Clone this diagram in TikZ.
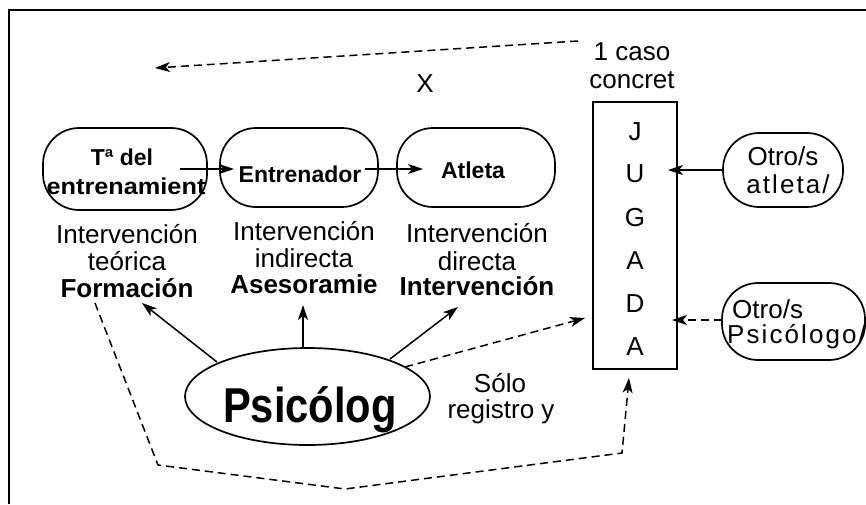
\documentclass[tikz,border=0pt]{standalone}
\usepackage{fontspec}
\usepackage{graphicx}
\setmainfont{Liberation Sans}
\usetikzlibrary{arrows.meta,shapes.geometric}
\newcommand\myfs[1]{\fontsize{#1}{#1}\selectfont}
\begin{document}
\begin{tikzpicture}[x=1pt,y=-1pt,
  txt/.style={inner sep=0pt,anchor=base,font=\myfs{26}},
  bltxt/.style={inner sep=0pt,anchor=base,font=\myfs{26}\bfseries},
  boxtxt/.style={inner sep=0pt,anchor=base,font=\myfs{23}\bfseries},
  rbox/.style={draw,line width=1.7pt,rounded corners=36pt,inner sep=0pt},
  conn/.style={line width=1.5pt,-{Stealth[length=15pt,width=10pt,inset=4pt]}},
  dconn/.style={conn,dash pattern=on 8pt off 5pt},
  spaced/.style={font=\myfs{26}\addfontfeatures{LetterSpace=8}}]
\useasboundingbox (0,0) rectangle (866,504);
% frame
\draw[line width=2.5pt] (9,504) -- (9,10) -- (866,10);
% shapes
\node[rbox, minimum width=164pt, minimum height=82pt] (ta) at (125,169) {};
\node[rbox, minimum width=158pt, minimum height=79pt] (en) at (299,167.5) {};
\node[rbox, minimum width=158pt, minimum height=79pt] (at) at (476,167.5) {};
\node[rbox, minimum width=120pt, minimum height=74pt] (oa) at (783,170) {};
\node[rbox, minimum width=143pt, minimum height=77pt] (op) at (793.5,321.5) {};
\node[draw, line width=1.8pt, minimum width=84pt, minimum height=267pt, inner sep=0pt] (jug) at (635,235.5) {};
\node[ellipse, draw, line width=1.7pt, minimum width=245pt, minimum height=97pt, inner sep=0pt] (psi) at (307.5,396.5) {};
% box texts
\node[boxtxt] (ta1) at (122,165) {Tª del};
\node[boxtxt] (ta2) at (126,194) {\scalebox{1.1}[1]{entrenamient}};
\node[boxtxt] (en1) at (300,182) {Entrenador};
\node[boxtxt] (at1) at (473,178) {Atleta};
\node[txt] (oa1) at (783,165) {Otro/s};
\node[txt,spaced] (oa2) at (788,193) {atleta/};
\node[txt,anchor=base west] (op1) at (732,318) {Otro/s};
\node[txt,anchor=base west,spaced] (op2) at (727,343) {Psicólogo/};
% columns
\node[txt] (c11) at (127,243) {Intervención};
\node[txt] (c12) at (127,270) {teórica};
\node[bltxt] (c13) at (127,297) {Formación};
\node[txt] (c21) at (304,240) {Intervención};
\node[txt] (c22) at (304,267) {indirecta};
\node[bltxt] (c23) at (304,293) {Asesoramie};
\node[txt] (c31) at (477,242) {Intervención};
\node[txt] (c32) at (477,270) {directa};
\node[bltxt] (c33) at (477,295) {Intervención};
% top texts
\node[txt] (caso1) at (632,60) {1 caso};
\node[txt] (caso2) at (632,88) {concret};
\node[txt] (xx) at (425,92) {X};
% JUGADA
\node[txt] (j1) at (635,140) {J};
\node[txt] (j2) at (635,182) {U};
\node[txt] (j3) at (635,226) {G};
\node[txt] (j4) at (635,269) {A};
\node[txt] (j5) at (635,312) {D};
\node[txt] (j6) at (635,355) {A};
% Psicologo
\node[inner sep=0pt,anchor=base,font=\myfs{49}\bfseries] (psit) at (310,422) {\scalebox{0.85}[1]{Psicólog}};
\node[txt] (so1) at (500,392) {Sólo};
\node[txt] (so2) at (501,418) {registro y};
% connector end points
\coordinate (a1s) at (180,169); \coordinate (a1e) at (234,169);
\coordinate (a2s) at (365,169); \coordinate (a2e) at (423,169);
\coordinate (a3e) at (668,170);
\coordinate (a4s) at (722,320); \coordinate (a4e) at (672,320);
\coordinate (p1s) at (217,362); \coordinate (p1e) at (142,303);
\coordinate (p2s) at (303,347); \coordinate (p2e) at (303,305);
\coordinate (p3s) at (390,359); \coordinate (p3e) at (458,307);
\coordinate (p4s) at (405,367); \coordinate (p4e) at (585,318);
\coordinate (q0) at (95,303); \coordinate (q1) at (158,465);
\coordinate (q2) at (345,489); \coordinate (q3) at (622,453);
\coordinate (q4) at (629,378);
\coordinate (ts) at (578,41); \coordinate (te) at (155,68);
% connectors
\draw[conn] (a1s) -- (a1e);
\draw[conn] (a2s) -- (a2e);
\draw[conn] (oa.west) -- (a3e);
\draw[dconn] (a4s) -- (a4e);
\draw[conn] (p1s) -- (p1e);
\draw[conn] (p2s) -- (p2e);
\draw[conn] (p3s) -- (p3e);
\draw[dconn] (p4s) -- (p4e);
\draw[dconn] (q0) -- (q1) -- (q2) -- (q3) -- (q4);
\draw[dconn] (ts) -- (te);
\end{tikzpicture}
\end{document}
